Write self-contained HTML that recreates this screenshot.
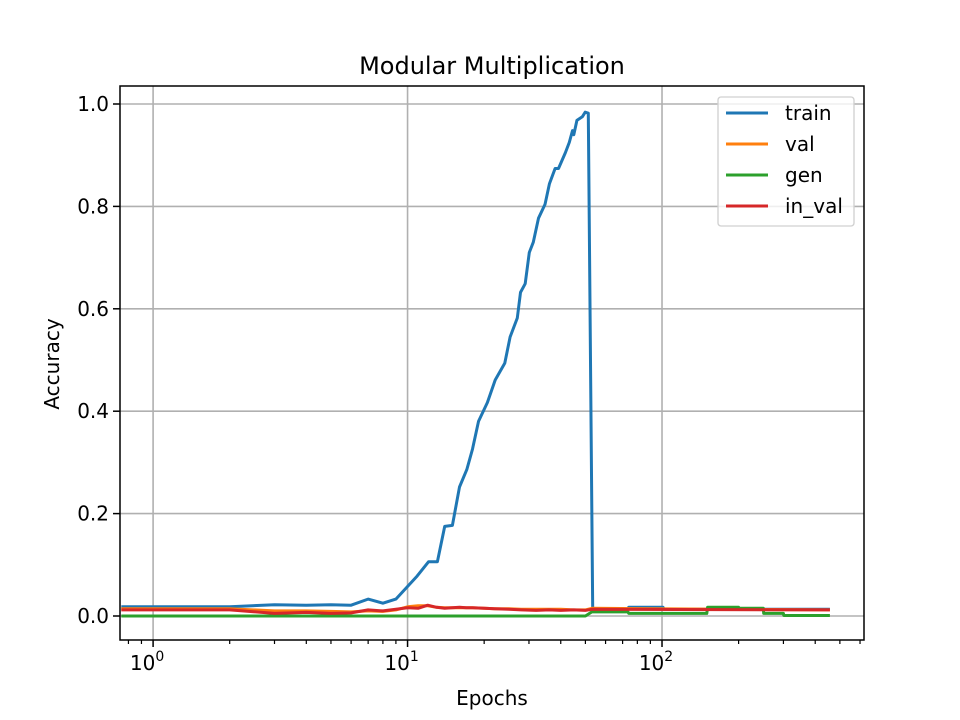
<!DOCTYPE html>
<html><head><meta charset="utf-8"><style>
body{margin:0;background:#fff}
svg{display:block;font-family:"DejaVu Sans","Liberation Sans",sans-serif}
</style></head><body>
<svg id="chart" width="960" height="720" viewBox="0 0 960 720">
<rect width="960" height="720" fill="#fff"/>
<g id="grid"></g>
<g id="series"></g>
<rect x="120" y="86" width="744" height="554" fill="none" stroke="#000" stroke-width="1.5"/>
<g id="ticks"></g>
<text x="492" y="74" text-anchor="middle" font-size="24">Modular Multiplication</text>
<text x="492" y="705" text-anchor="middle" font-size="20">Epochs</text>
<text transform="translate(59,364) rotate(-90)" text-anchor="middle" font-size="20">Accuracy</text>
<g id="legend">
<rect x="718" y="97" width="136" height="129" rx="3" fill="#fff" fill-opacity="0.8" stroke="#d0d0d0" stroke-width="1.33"/>
</g>
</svg>
<script>
const seriesNames = ["train","val","gen","in_val"];
const seriesColors = ["#1f77b4","#ff7f0e","#2ca02c","#d62728"];
const trainEpochs = [0.75,1,2,3,4,5,6,7,8,9,10.9,12.1,13.1,14,15,16,17.1,18,19,20.6,22.1,24.1,25.3,27,27.8,29,30.1,31.2,32.7,34.7,36.1,38,39.2,41.7,43.2,44.5,45,46.3,48.6,49.9,51.3,53.4,73.5,74,101,102,457];
const trainAcc = [0.018,0.018,0.018,0.022,0.021,0.022,0.021,0.033,0.025,0.033,0.078,0.106,0.106,0.175,0.177,0.252,0.286,0.326,0.38,0.417,0.461,0.494,0.545,0.582,0.632,0.649,0.71,0.73,0.777,0.804,0.844,0.874,0.874,0.905,0.925,0.948,0.94,0.968,0.975,0.984,0.982,0.013,0.013,0.017,0.017,0.013,0.013];
const valEpochs = [0.75,1,2,3,4,5,6,7,8,9,10,11,12,13,14,16,18,20,22,25,28,32,36,40,45,50,53,457];
const valAcc = [0.014,0.014,0.014,0.01,0.01,0.009,0.008,0.01,0.009,0.012,0.018,0.02,0.02,0.017,0.016,0.016,0.016,0.015,0.014,0.014,0.013,0.013,0.013,0.013,0.012,0.012,0.015,0.012];
const genEpochs = [0.75,50,53,73.5,74,150,151,200,201,250,251,300,301,457];
const genAcc = [0.0,0.0,0.008,0.008,0.005,0.005,0.017,0.017,0.015,0.015,0.005,0.005,0.001,0.001];
const invalEpochs = [0.75,1,2,3,4,5,6,7,8,9,10,11,12,13,14,16,17,18,20,22,25,28,32,36,40,45,50,53,457];
const invalAcc = [0.012,0.012,0.012,0.005,0.007,0.005,0.006,0.012,0.01,0.013,0.016,0.015,0.021,0.017,0.015,0.017,0.016,0.016,0.015,0.014,0.013,0.012,0.011,0.012,0.011,0.012,0.011,0.013,0.012];
const xTickVals = [1,10,100];
const xTickExps = ["0","1","2"];
const yTickVals = [0,0.2,0.4,0.6,0.8,1.0];
const yTickLabels = ["0.0","0.2","0.4","0.6","0.8","1.0"];

const NS="http://www.w3.org/2000/svg";
const X0=120,X1=864,Y0=86,Y1=640;
const xMinL=Math.log10(0.7412), xMaxL=Math.log10(622);
function xs(e){return X0+(Math.log10(e)-xMinL)/(xMaxL-xMinL)*(X1-X0);}
function ys(v){return 616-v*512;}
function mk(tag,attrs,parent){const el=document.createElementNS(NS,tag);for(const k in attrs)el.setAttribute(k,attrs[k]);parent.appendChild(el);return el;}
const grid=document.getElementById('grid'),ticks=document.getElementById('ticks'),ser=document.getElementById('series');
xTickVals.forEach((v,i)=>{
  const x=xs(v);
  const g=mk('line',{x1:x,x2:x,y1:Y0,y2:Y1,stroke:'#b0b0b0','stroke-width':1.6},grid);
  
  
  mk('line',{x1:x,x2:x,y1:Y1,y2:Y1+7,stroke:'#000','stroke-width':1.5},ticks);
  const t=mk('text',{x:x-6,y:Y1+30,'text-anchor':'middle','font-size':20},ticks);
  
  
  t.textContent='10';
  const s=mk('tspan',{dy:-9,'font-size':14},t);s.textContent=xTickExps[i];
});
for(let d=-1;d<=2;d++)for(let m=2;m<=9;m++){const e=m*Math.pow(10,d);const x=xs(e);if(x<X0||x>X1)continue;
  mk('line',{x1:x,x2:x,y1:Y1,y2:Y1+4,stroke:'#000','stroke-width':1.2},ticks);}
yTickVals.forEach((v,i)=>{
  const y=ys(v);
  const g=mk('line',{x1:X0,x2:X1,y1:y,y2:y,stroke:'#b0b0b0','stroke-width':1.6},grid);
  
  
  mk('line',{x1:X0-7,x2:X0,y1:y,y2:y,stroke:'#000','stroke-width':1.5},ticks);
  const t=mk('text',{x:X0-11,y:y+7,'text-anchor':'end','font-size':20},ticks);
  
  
  t.textContent=yTickLabels[i];
});
const allX=[trainEpochs,valEpochs,genEpochs,invalEpochs],allY=[trainAcc,valAcc,genAcc,invalAcc];
[0,1,2,3].forEach(i=>{
  const pts=allX[i].map((e,j)=>xs(e).toFixed(1)+','+ys(allY[i][j]).toFixed(1)).join(' ');
  const p=mk('polyline',{points:pts,fill:'none',stroke:seriesColors[i],'stroke-width':3,'stroke-linejoin':'round'},ser);
  
  
});
const leg=document.getElementById('legend');
seriesNames.forEach((n,i)=>{
  const y=113+i*31;
  const l=mk('line',{x1:726,x2:768,y1:y,y2:y,stroke:seriesColors[i],'stroke-width':3},leg);
  
  
  const t=mk('text',{x:785,y:y+7,'font-size':20},leg);
  
  
  t.textContent=n;
});
</script>
</body></html>
